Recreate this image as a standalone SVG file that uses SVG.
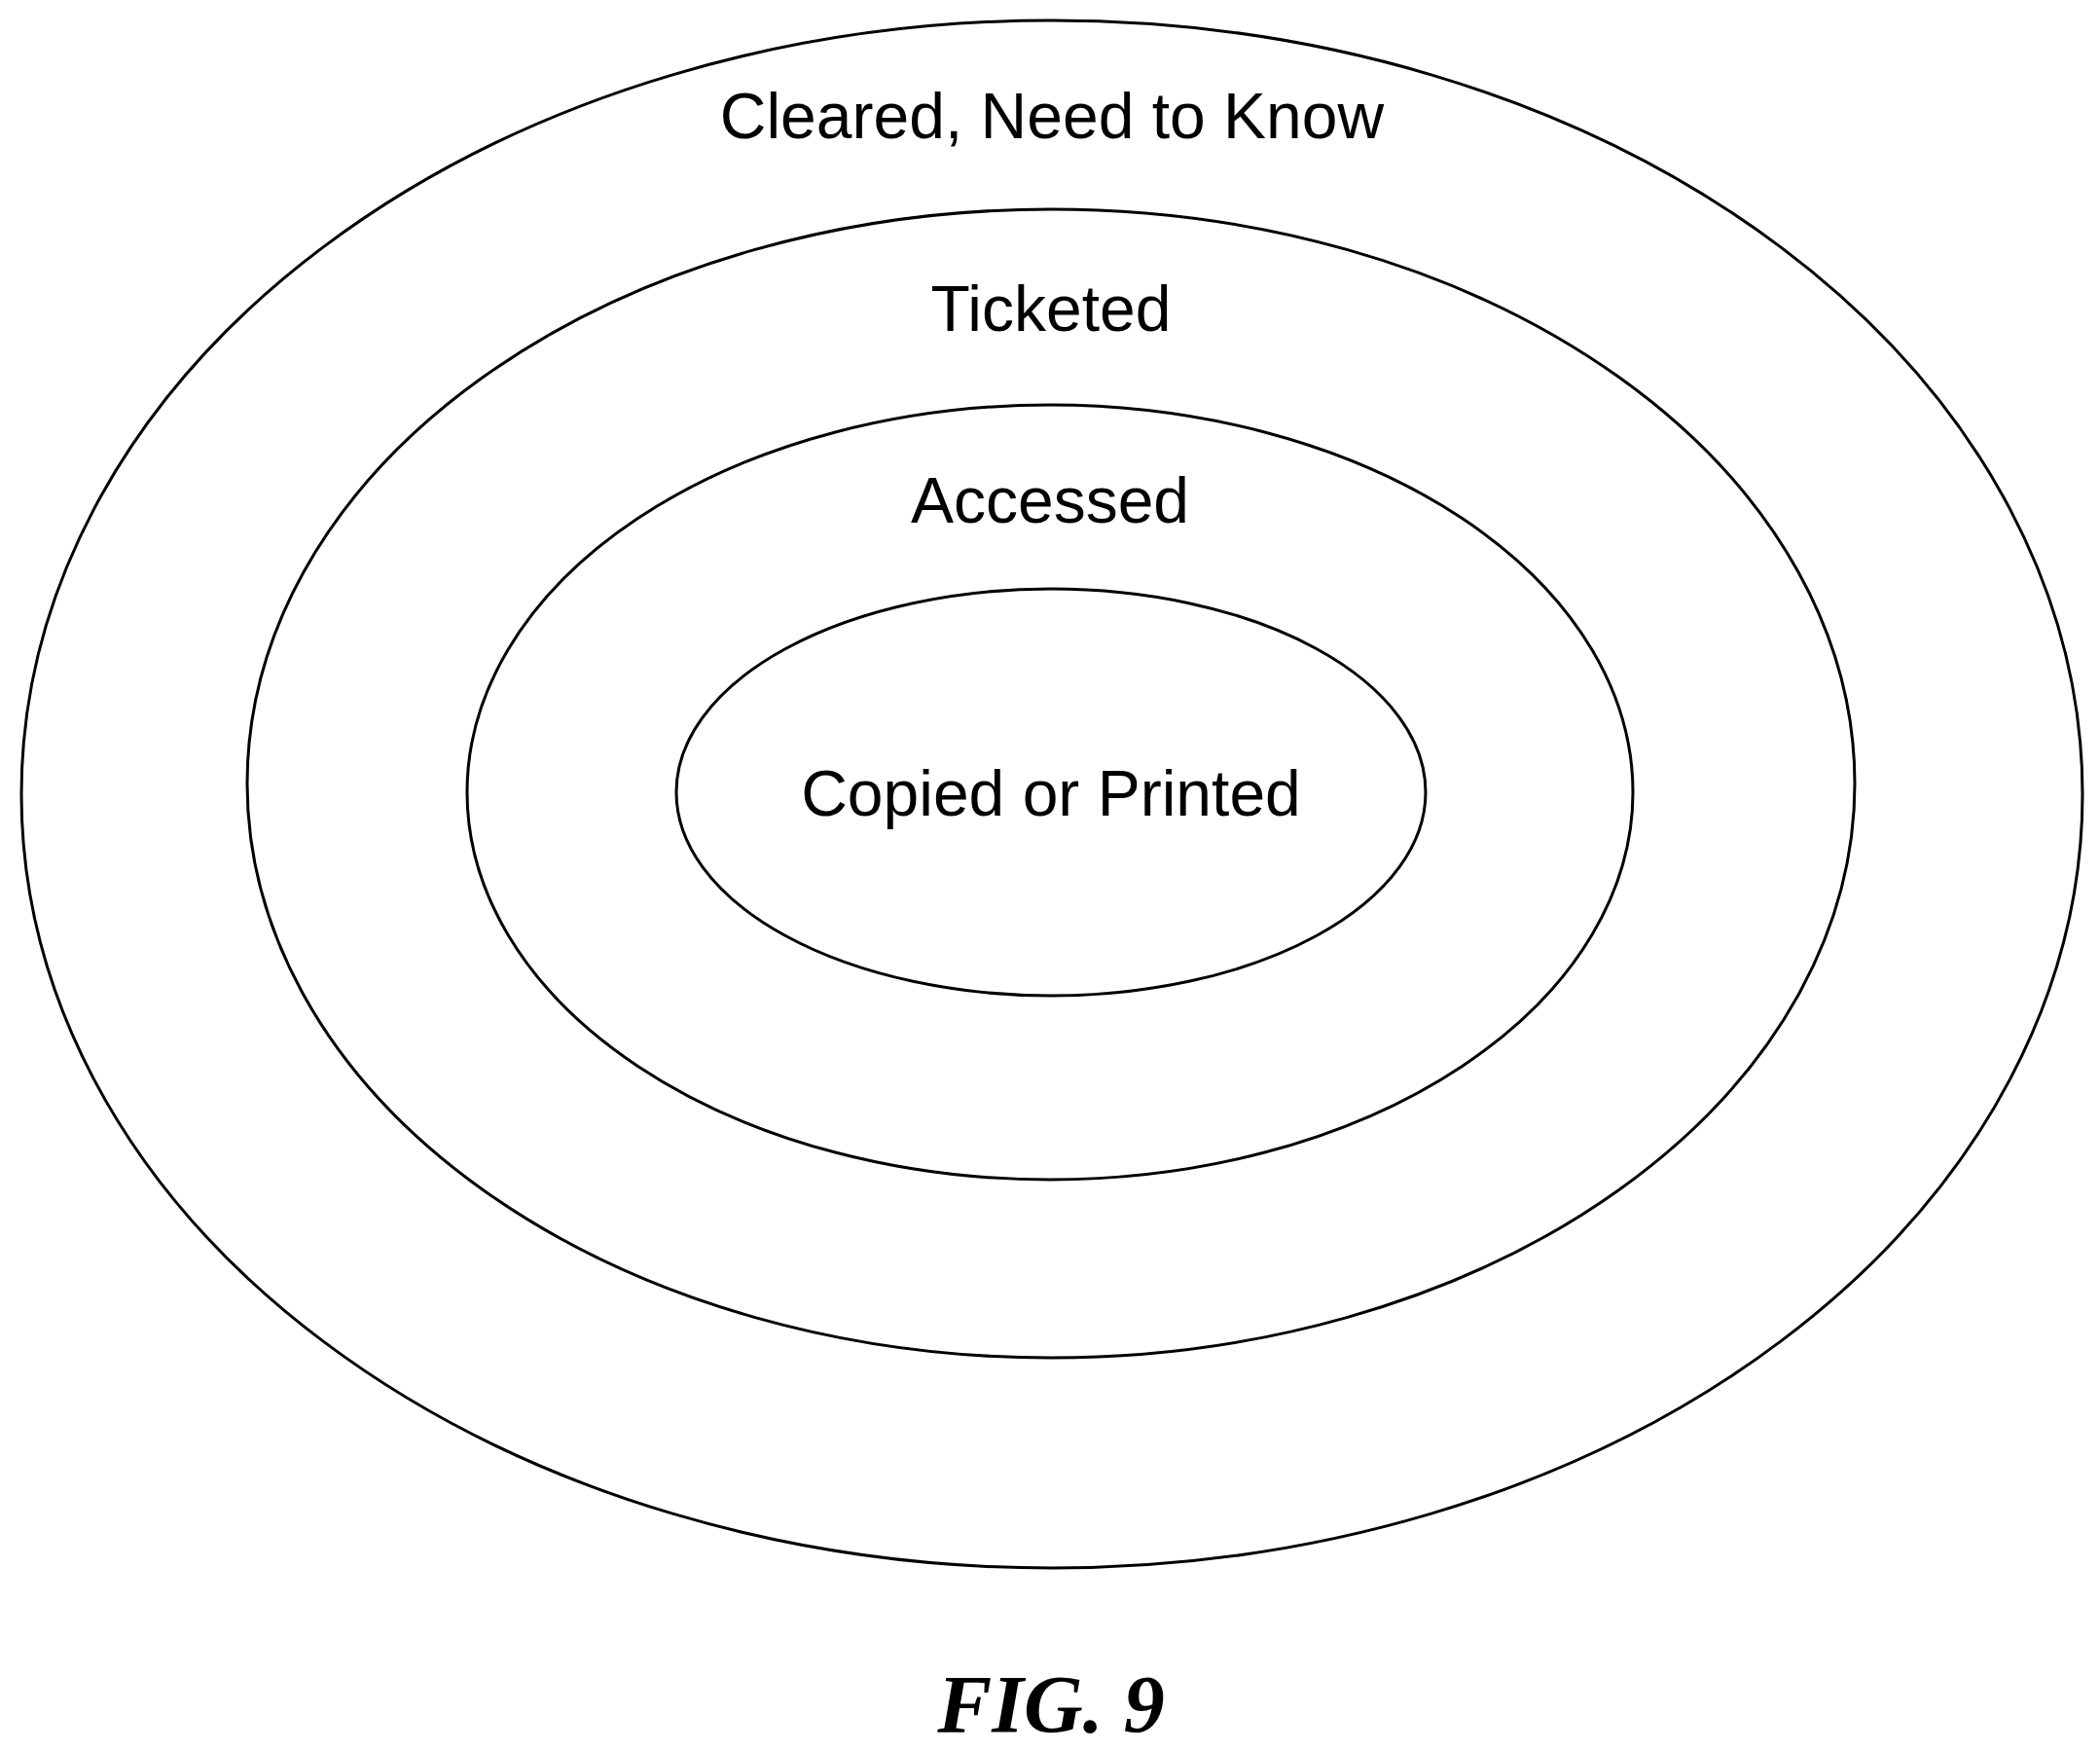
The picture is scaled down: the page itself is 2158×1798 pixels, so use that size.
<svg xmlns="http://www.w3.org/2000/svg" width="2158" height="1798" viewBox="0 0 2158 1798">
<style>
ellipse{fill:none;stroke:#000;stroke-width:3}
.t{font-family:"Liberation Sans",Arial,sans-serif;font-size:66px;text-anchor:middle}
.f{font-family:"Liberation Serif","Times New Roman",serif;font-size:84px;font-weight:bold;font-style:italic;text-anchor:middle}
</style>
<rect width="2158" height="1798" fill="#fff"/>
<g id="cleared"><ellipse cx="1081" cy="816" rx="1059" ry="795"/><text class="t" x="1081" y="142">Cleared, Need to Know</text></g>
<g id="ticketed"><ellipse cx="1080" cy="805" rx="826" ry="590"/><text class="t" x="1080" y="340">Ticketed</text></g>
<g id="accessed"><ellipse cx="1079" cy="814" rx="599" ry="398"/><text class="t" x="1079" y="537">Accessed</text></g>
<g id="copied"><ellipse cx="1080" cy="814" rx="385" ry="209"/><text class="t" x="1080" y="838">Copied or Printed</text></g>
<g id="connectors"/>
<text class="f" x="1080" y="1780">FIG. 9</text>
</svg>
